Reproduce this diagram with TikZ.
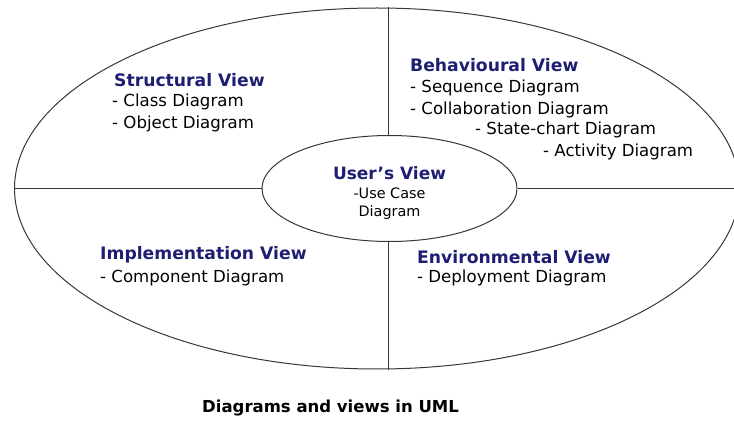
\documentclass[tikz,border=0pt]{standalone}
\usepackage{fontspec}
\setmainfont{DejaVu Sans}
\usetikzlibrary{shapes.geometric}
\definecolor{viewblue}{RGB}{30,30,115}
\definecolor{linegray}{RGB}{55,55,55}
\tikzstyle{title} = [anchor=west, inner sep=0pt, text=viewblue,
font=\fontsize{17.2}{20}\selectfont\bfseries]
\tikzstyle{item} = [anchor=west, inner sep=0pt,
font=\fontsize{16.6}{20}\selectfont]
\tikzstyle{line} = [draw=linegray, line width=1pt]

\begin{document}
\begin{tikzpicture}[x=1pt, y=-1pt]
	\useasboundingbox (0,0) rectangle (734,422);
	\clip (0,0) rectangle (734,422);
	% Place ellipses
	\node [ellipse, line, minimum width=725pt, minimum height=361pt] (outer) at (377,188.5) {};
	\node [ellipse, line, minimum width=255pt, minimum height=106pt, align=center,
	font=\fontsize{14.4}{18.5}\selectfont] (users) at (389.5,188.5)
	{\rule{0pt}{22pt}\textcolor{viewblue}{\fontsize{17}{20}\selectfont\bfseries User's View}\\-Use Case\\Diagram};
	\path [line] (users.north -| 388,0) -- (388,7.5);
	\path [line] (users.south -| 388,0) -- (388,369.5);
	\path [line] (outer.west) -- (users.west);
	\path [line] (users.east) -- (outer.east);
	
	% Structural view
	\node [title] (structural) at (114,80) {Structural View};
	\node [item] (class) at (112,102) {- Class Diagram};
	\node [item] (object) at (112,124) {- Object Diagram};
	
	% Behavioural view
	\node [title] (behavioural) at (410,65) {Behavioural View};
	\node [item] (sequence) at (410,88) {- Sequence Diagram};
	\node [item] (collab) at (410,110) {- Collaboration Diagram};
	\node [item] (state) at (475,130) {- State-chart Diagram};
	\node [item] (activity) at (543,152) {- Activity Diagram};
	
	% Implementation view
	\node [title] (implementation) at (100,255) {Implementation View};
	\node [item] (component) at (100,278) {- Component Diagram};
	
	% Environmental view
	\node [title] (environmental) at (417,257) {Environmental View};
	\node [item] (deployment) at (417,278) {- Deployment Diagram};
	
	\node [item, font=\fontsize{16.5}{20}\selectfont\bfseries] (caption) at (202,408) {Diagrams and views in UML};
\end{tikzpicture}
\end{document}
